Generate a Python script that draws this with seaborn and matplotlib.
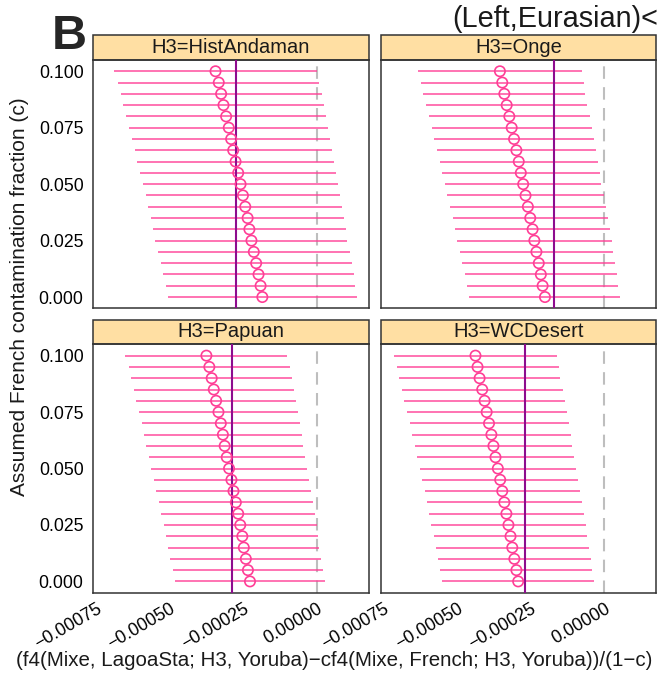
import pandas as pd
import seaborn as sns
import matplotlib.pyplot as plt
from matplotlib.patches import Rectangle

# assumed contamination fraction c (y axis), one row per value
contam = [0.000, 0.005, 0.010, 0.015, 0.020, 0.025, 0.030, 0.035, 0.040, 0.045, 0.050,
          0.055, 0.060, 0.065, 0.070, 0.075, 0.080, 0.085, 0.090, 0.095, 0.100]

populations = ['HistAndaman', 'Onge', 'Papuan', 'WCDesert']

# corrected f4 estimates and their half-interval (c = 0 -> 0.1)
est_histandaman = [-0.000186, -0.000192, -0.000199, -0.000207, -0.000215, -0.000223, -0.000230,
                   -0.000236, -0.000244, -0.000252, -0.000260, -0.000268, -0.000277, -0.000285,
                   -0.000292, -0.000300, -0.000309, -0.000318, -0.000326, -0.000334, -0.000345]
err_histandaman = [0.000321, 0.000322, 0.000323, 0.0003245, 0.000325, 0.000326, 0.0003275,
                   0.000328, 0.000329, 0.000330, 0.0003315, 0.0003325, 0.000334, 0.000335,
                   0.0003365, 0.000338, 0.000339, 0.000340, 0.000341, 0.000342, 0.0003445]

est_onge = [-0.000202, -0.000210, -0.000216, -0.000223, -0.000231, -0.000238, -0.000244,
            -0.000252, -0.000260, -0.000268, -0.000276, -0.000284, -0.000291, -0.000299,
            -0.000307, -0.000315, -0.000323, -0.000332, -0.000340, -0.000347, -0.000355]
err_onge = [0.0002565, 0.0002575, 0.0002585, 0.0002595, 0.0002605, 0.000262, 0.000263,
            0.0002635, 0.0002645, 0.000265, 0.000266, 0.0002675, 0.0002685, 0.000269,
            0.0002705, 0.0002715, 0.0002725, 0.000274, 0.000275, 0.000276, 0.0002775]

est_papuan = [-0.000228, -0.000235, -0.000242, -0.000249, -0.000254, -0.000261, -0.000268,
              -0.000276, -0.000284, -0.000291, -0.000299, -0.000307, -0.000314, -0.000320,
              -0.000327, -0.000335, -0.000343, -0.000351, -0.000358, -0.000366, -0.000376]
err_papuan = [0.0002545, 0.000255, 0.0002565, 0.000257, 0.000258, 0.000259, 0.0002605,
              0.0002615, 0.000262, 0.000263, 0.0002645, 0.0002655, 0.000266, 0.000267,
              0.0002685, 0.000269, 0.0002705, 0.000272, 0.000273, 0.000274, 0.000275]

est_wcdesert = [-0.000293, -0.000299, -0.000306, -0.000313, -0.000319, -0.000326, -0.000333,
                -0.000340, -0.000347, -0.000354, -0.000362, -0.000370, -0.000377, -0.000384,
                -0.000392, -0.000400, -0.000407, -0.000415, -0.000424, -0.000431, -0.000438]
err_wcdesert = [0.0002575, 0.000258, 0.000259, 0.000260, 0.000261, 0.000262, 0.0002625,
                0.0002635, 0.000264, 0.000265, 0.000266, 0.000267, 0.000268, 0.0002695,
                0.000270, 0.0002715, 0.0002725, 0.0002735, 0.0002745, 0.000275, 0.000277]

# uncorrected estimate per panel (purple vertical line)
uncorrected = [-0.000277, -0.000170, -0.000290, -0.000271]

x_ticks = [-0.00075, -0.00050, -0.00025, 0.00000]
x_tick_labels = ['\u22120.00075', '\u22120.00050', '\u22120.00025', '0.00000']
y_ticks = [0.000, 0.025, 0.050, 0.075, 0.100]
y_tick_labels = ['0.000', '0.025', '0.050', '0.075', '0.100']

pink = '#FF3E96'
purple = '#8E0C8E'
strip_color = '#FFDFA3'
frame_color = '#333333'

frames = []
for pop, est, err in zip(populations,
                         [est_histandaman, est_onge, est_papuan, est_wcdesert],
                         [err_histandaman, err_onge, err_papuan, err_wcdesert]):
    frames.append(pd.DataFrame({'H3': pop, 'c': contam, 'est': est, 'err': err}))
df = pd.concat(frames, ignore_index=True)
df['lo'] = df['est'] - df['err']
df['hi'] = df['est'] + df['err']

sns.set_theme(style='white')
plt.rcParams['font.family'] = ['Liberation Sans', 'DejaVu Sans']


def draw_panel(data, **kws):
    ax = plt.gca()
    ax.hlines(data['c'], data['lo'], data['hi'], color=pink, linewidth=1.2, alpha=0.85, zorder=2)
    sns.scatterplot(data=data, x='est', y='c', ax=ax, marker='o', s=55,
                    facecolor='none', edgecolor=pink, linewidth=1.2, zorder=4)


g = sns.FacetGrid(df, col='H3', col_wrap=2, col_order=populations, height=3, aspect=1,
                  sharex=True, sharey=True, despine=False)
g.map_dataframe(draw_panel)

fig = g.figure
fig.set_size_inches(6.6, 6.83)
fig.subplots_adjust(left=0.1414, right=0.9939, top=0.9122, bottom=0.1322, wspace=0.0436, hspace=0.145)

for i, (ax, pop) in enumerate(zip(g.axes.flat, populations)):
    ax.set_title('')
    ax.set_xlabel('')
    ax.set_ylabel('')
    ax.axvline(0, color='#BEBEBE', linewidth=1.5, dashes=(6, 4), zorder=1)
    ax.axvline(uncorrected[i], color=purple, linewidth=1.5, zorder=3)
    ax.set_xlim(-0.00076, 0.000175)
    ax.set_ylim(-0.005, 0.105)
    ax.set_xticks(x_ticks)
    ax.set_yticks(y_ticks)
    for sp in ax.spines.values():
        sp.set_color(frame_color)
        sp.set_linewidth(1.1)
    ax.tick_params(direction='out', length=3.5, width=1, color=frame_color,
                   labelsize=12.7, labelcolor='black', pad=3.5)
    if i % 2 == 0:
        ax.set_yticklabels(y_tick_labels)
    else:
        ax.tick_params(axis='y', length=0, labelleft=False)
    if i >= 2:
        ax.set_xticklabels(x_tick_labels, rotation=30, ha='right', rotation_mode='anchor')
        ax.tick_params(axis='x', pad=2)
    else:
        ax.tick_params(axis='x', length=0, labelbottom=False)
    # facet strip
    ax.add_patch(Rectangle((0, 1.0), 1, 0.1, transform=ax.transAxes, clip_on=False,
                           facecolor=strip_color, edgecolor=frame_color, linewidth=1.1))
    ax.text(0.5, 1.05, f'H3={pop}', transform=ax.transAxes, ha='center', va='center',
            fontsize=14.5, color='#1a1a1a')

fig.text(20 / 660, 1 - 297 / 683, 'Assumed French contamination fraction (c)',
         rotation=90, ha='center', va='center', fontsize=15, color='#1a1a1a')
fig.text(334 / 660, 1 - 660 / 683,
         '(f4(Mixe, LagoaSta; H3, Yoruba)\u2212cf4(Mixe, French; H3, Yoruba))/(1\u2212c)',
         ha='center', va='center', fontsize=14.8, color='#1a1a1a')
fig.text(52 / 660, 1 - 49 / 683, 'B', fontsize=35, fontweight='bold', ha='left', va='baseline')
fig.text(452 / 660, 1 - 27 / 683, '(Left,Eurasian)<', fontsize=20.8, ha='left', va='baseline',
         color='#1a1a1a')

fig.savefig('out.png', dpi=100)
